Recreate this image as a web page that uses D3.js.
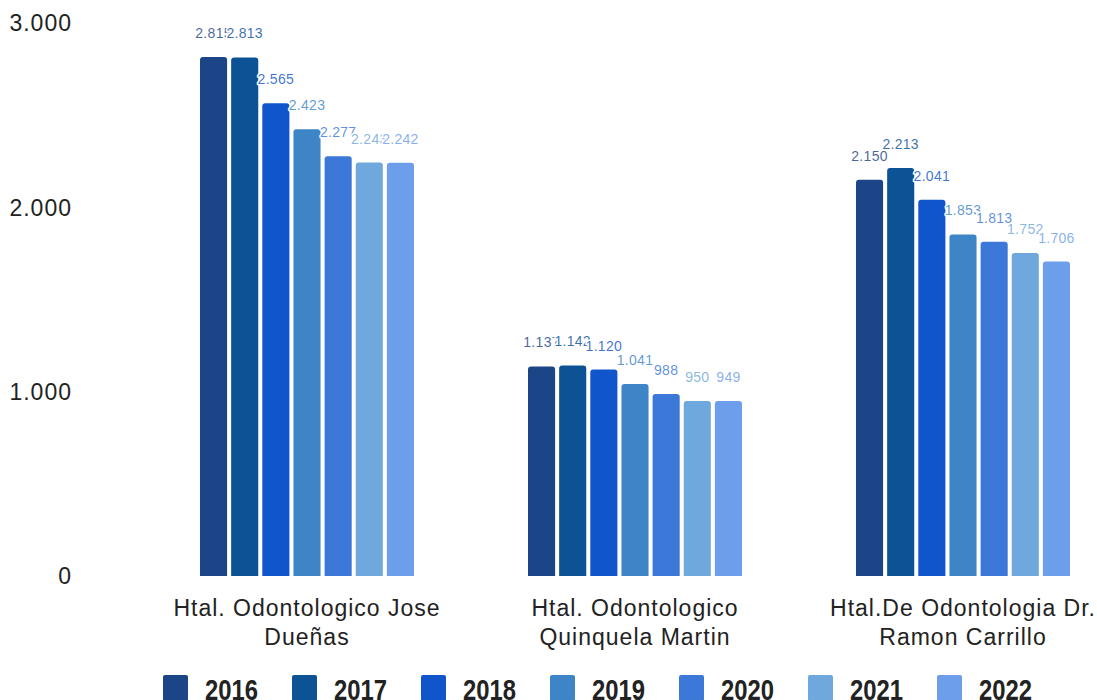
<!DOCTYPE html>
<html>
<head>
<meta charset="utf-8">
<script src="https://cdn.jsdelivr.net/npm/d3@7"></script>
<style>
  body { margin: 0; background: #fff; }
  text { font-family: "Liberation Sans", Arial, sans-serif; }
</style>
</head>
<body>
<div id="chart"></div>
<script>
var hospitals = [
  ['Htal. Odontologico Jose', 'Dueñas'],
  ['Htal. Odontologico', 'Quinquela Martin'],
  ['Htal.De Odontologia Dr.', 'Ramon Carrillo']
]
var years = ['2016', '2017', '2018', '2019', '2020', '2021', '2022']
var colors = ['#1c4587', '#0b5394', '#1155cc', '#3d85c6', '#3c78d8', '#6fa8dc', '#6d9eeb']

// one array per hospital, in year order
var duenas = [2815, 2813, 2565, 2423, 2277, 2243, 2242]
var quinquela = [1137, 1142, 1120, 1041, 988, 950, 949]
var carrillo = [2150, 2213, 2041, 1853, 1813, 1752, 1706]
var values = [duenas, quinquela, carrillo]

var yTicks = [0, 1000, 2000, 3000]

var width = 1097, height = 700

var svg = d3.select('#chart').append('svg')
  .attr('width', width)
  .attr('height', height)

var fmt = d3.formatLocale({decimal: ',', thousands: '.', grouping: [3], currency: ['', '']}).format(',d')

var x0 = d3.scaleBand().domain(d3.range(hospitals.length)).range([143, 1127])
var x1 = d3.scaleBand().domain(years).range([57, 271]).paddingInner(0.13)
var y = d3.scaleLinear().domain([0, 3000]).range([576, 23])

// y labels, no axis line
svg.append('g').selectAll('text')
  .data(yTicks)
  .join('text')
  .attr('x', 72)
  .attr('y', d => y(d))
  .attr('dy', '0.36em')
  .attr('text-anchor', 'end')
  .attr('font-size', 23)
  .attr('letter-spacing', 1)
  .attr('fill', '#222')
  .text(fmt)

var rows = []
values.forEach(function(vals, i){
  vals.forEach(function(v, j){ rows.push({hosp: i, year: years[j], color: colors[j], value: v}) })
})

function topRounded(x, y0, w, h, r){
  return 'M' + x + ',' + (y0 + h) +
    'V' + (y0 + r) + 'Q' + x + ',' + y0 + ' ' + (x + r) + ',' + y0 +
    'H' + (x + w - r) + 'Q' + (x + w) + ',' + y0 + ' ' + (x + w) + ',' + (y0 + r) +
    'V' + (y0 + h) + 'Z'
}

svg.append('g').selectAll('path')
  .data(rows)
  .join('path')
  .attr('fill', d => d.color)
  .attr('d', d => topRounded(x0(d.hosp) + x1(d.year), y(d.value), x1.bandwidth(), y(0) - y(d.value), 3))

// value labels with white halo, later ones drawn over earlier ones
svg.append('g').selectAll('text')
  .data(rows)
  .join('text')
  .attr('x', d => x0(d.hosp) + x1(d.year) + x1.bandwidth() / 2)
  .attr('y', d => y(d.value) - 19)
  .attr('text-anchor', 'middle')
  .attr('font-family', 'Roboto, sans-serif')
  .attr('font-size', 14)
  .attr('letter-spacing', 0.3)
  .attr('fill', d => d.color)
  .attr('fill-opacity', 0.82)
  .attr('stroke', '#fff')
  .attr('stroke-width', 3)
  .attr('stroke-linejoin', 'round')
  .attr('paint-order', 'stroke')
  .text(d => fmt(d.value))

// category labels
var cat = svg.append('g').selectAll('text')
  .data(hospitals)
  .join('text')
  .attr('x', (d, i) => x0(i) + x0.bandwidth() / 2)
  .attr('y', 616)
  .attr('text-anchor', 'middle')
  .attr('font-size', 23)
  .attr('letter-spacing', 1)
  .attr('fill', '#222')

cat.selectAll('tspan')
  .data(d => d)
  .join('tspan')
  .attr('x', function(){ return this.parentNode.getAttribute('x') })
  .attr('dy', (d, i) => i ? 29 : 0)
  .text(d => d)

// legend
var lx = d3.scalePoint().domain(years).range([163, 937])
var leg = svg.append('g').selectAll('g')
  .data(years)
  .join('g')
  .attr('transform', d => 'translate(' + lx(d) + ',675)')

leg.append('rect')
  .attr('width', 25)
  .attr('height', 26)
  .attr('rx', 2)
  .attr('fill', (d, i) => colors[i])

leg.append('text')
  .attr('x', 42)
  .attr('y', 25)
  .attr('font-size', 29)
  .attr('font-weight', 'bold')
  .attr('textLength', 53)
  .attr('lengthAdjust', 'spacingAndGlyphs')
  .attr('fill', '#222')
  .text(d => d)
</script>
</body>
</html>
